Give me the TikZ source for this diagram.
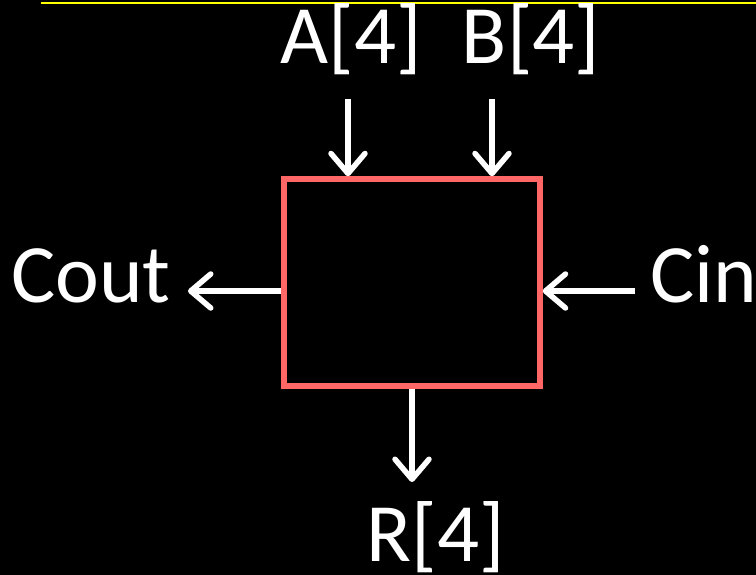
\documentclass[tikz,border=0pt]{standalone}
\usepackage{fontspec}
\setmainfont{Carlito}
\usetikzlibrary{arrows.meta}
\definecolor{boxred}{RGB}{255,102,102}
\definecolor{topline}{RGB}{255,255,0}
\begin{document}
\begin{tikzpicture}[x=1bp,y=-1bp,
  lbl/.style={text=white,font=\fontsize{83bp}{98bp}\selectfont,inner sep=0pt,anchor=base},
  sig/.style={draw=white,line width=5.5bp,-{Straight Barb[length=20bp,width=34bp,round]}},
  block/.style={draw=boxred,line width=5.5bp,inner sep=0pt,minimum width=256bp,minimum height=207bp}]
\fill[black] (0,0) rectangle (756,575);
\useasboundingbox (0,0) rectangle (756,575);
\coordinate (tl) at (41,3);
\coordinate (tr) at (756,3);
\draw[topline,line width=2.5bp] (tl) -- (tr);
\node[block] (box) at (412,282.5) {};
\node[lbl] (la) at (351,64) {A[4]};
\node[lbl] (lb) at (531,64) {B[4]};
\node[lbl] (lcout) at (91,302) {Cout};
\node[lbl] (lcin) at (704,302) {Cin};
\node[lbl] (lr) at (435.5,561) {R[4]};
\coordinate (ain) at (348,99);
\coordinate (bin) at (492,99);
\coordinate (coutend) at (188,291);
\coordinate (cinstart) at (635,291);
\coordinate (rend) at (412,482);
\draw[sig] (ain) -- (ain |- box.north);
\draw[sig] (bin) -- (bin |- box.north);
\draw[sig] (box.west |- coutend) -- (coutend);
\draw[sig] (cinstart) -- (box.east |- cinstart);
\draw[sig] (rend |- box.south) -- (rend);
\end{tikzpicture}
\end{document}
